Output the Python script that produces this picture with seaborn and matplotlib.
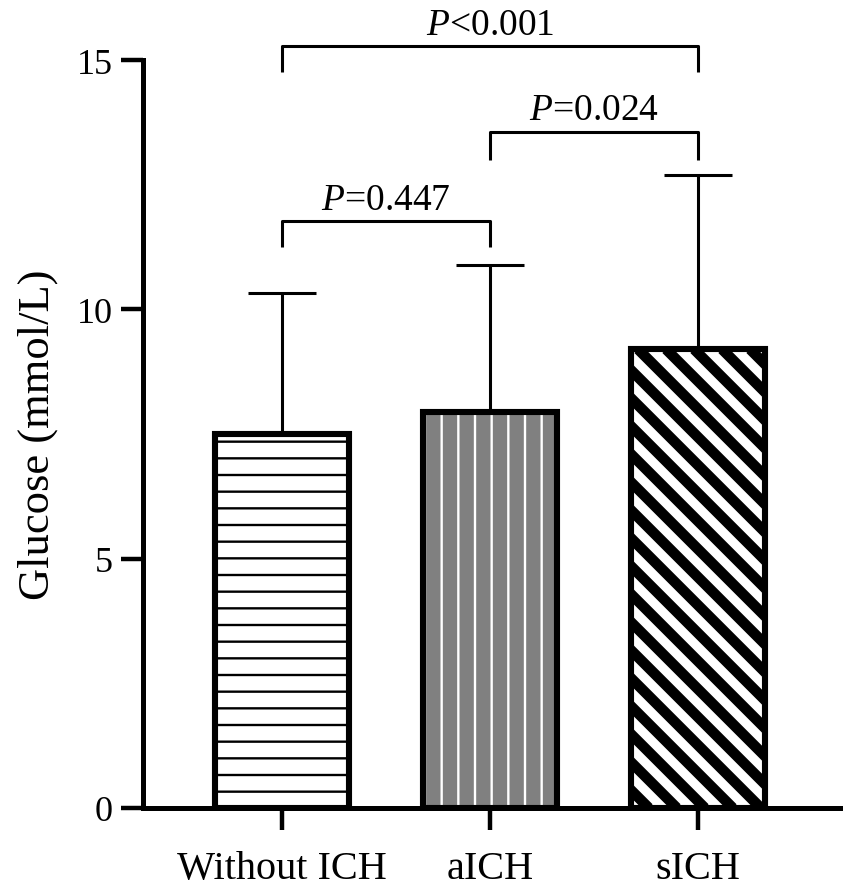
import matplotlib
matplotlib.use('Agg')
import matplotlib.pyplot as plt
import seaborn as sns
import pandas as pd
from matplotlib.patches import Rectangle
from matplotlib.lines import Line2D

# values
groups = ['Without ICH', 'aICH', 'sICH']
mean_glucose = [7.50, 7.94, 9.20]
sd_glucose = [2.83, 2.94, 3.49]
y_ticks = [0, 5, 10, 15]

comparisons = [(0, 1), (1, 2), (0, 2)]
p_labels = ['$\\mathit{P}$=0.447', '$\\mathit{P}$=0.024', '$\\mathit{P}$<0.001']
bracket_top = [11.77, 13.56, 15.28]
bracket_leg = [11.25, 12.99, 14.76]

face_colors = ['white', '#808080', 'white']

sns.set_theme(style='ticks')
plt.rcParams['font.family'] = ['Liberation Serif', 'DejaVu Serif']
plt.rcParams['mathtext.fontset'] = 'custom'
plt.rcParams['mathtext.rm'] = 'Liberation Serif'
plt.rcParams['mathtext.it'] = 'Liberation Serif:italic'
plt.rcParams['hatch.linewidth'] = 1.7
for key in ['text.color', 'axes.labelcolor', 'xtick.color', 'ytick.color', 'axes.edgecolor']:
    plt.rcParams[key] = 'black'

fig = plt.figure(figsize=(8.51, 8.95), dpi=100)
ax = fig.add_axes([143 / 851, 86 / 895, 697 / 851, 748 / 895])

df = pd.DataFrame({'group': groups, 'glucose': mean_glucose})
sns.barplot(data=df, x='group', y='glucose', hue='group', palette=face_colors,
            saturation=1, width=0.645, linewidth=0, legend=False, ax=ax, zorder=2)

ax.errorbar(range(len(groups)), mean_glucose, yerr=[[0] * len(groups), sd_glucose],
            fmt='none', ecolor='black', elinewidth=2.2, capsize=24.5, capthick=2.2,
            zorder=1)

ax.set_xlim(-0.668, 2.683)
ax.set_ylim(0, 15)
ax.set_yticks(y_ticks)

bars = list(ax.patches)[:3]

# hatch overlays: horizontal lines, white vertical lines
for bar, hatch, hcol in zip(bars[:2], ['-', '|'], ['black', 'white']):
    over = Rectangle(bar.get_xy(), bar.get_width(), bar.get_height(), fill=False,
                     hatch=hatch, edgecolor=hcol, linewidth=0, zorder=2.1)
    ax.add_patch(over)

# thick diagonal stripes for sICH
bar = bars[2]
(px0, py0) = ax.transData.transform((bar.get_x(), bar.get_y()))
(px1, py1) = ax.transData.transform((bar.get_x() + bar.get_width(), bar.get_y() + bar.get_height()))
clip_rect = Rectangle(bar.get_xy(), bar.get_width(), bar.get_height(), transform=ax.transData)
hgt = py1 - py0
s = px0 - hgt - 10
while s < px1 + 10:
    ln = Line2D([s / fig.dpi, (s + hgt) / fig.dpi], [py1 / fig.dpi, py0 / fig.dpi],
                transform=fig.dpi_scale_trans, color='black', linewidth=7.6,
                solid_capstyle='butt', zorder=2.1)
    ax.add_artist(ln)
    ln.set_clip_path(clip_rect)
    s += 28

# black outlines on top
for bar in bars:
    ax.add_patch(Rectangle(bar.get_xy(), bar.get_width(), bar.get_height(), fill=False,
                           edgecolor='black', linewidth=4.4, zorder=2.2))

# significance brackets
for (a, b), lab, top, leg in zip(comparisons, p_labels, bracket_top, bracket_leg):
    ax.plot([a, a, b, b], [leg, top, top, leg], color='black', linewidth=2.2,
            clip_on=False, solid_capstyle='butt')
    ax.annotate(lab, xy=((a + b) / 2, top), xytext=(0, 9), textcoords='offset points',
                ha='center', va='baseline', fontsize=27, color='black',
                annotation_clip=False)

sns.despine(ax=ax)
for side in ['left', 'bottom']:
    ax.spines[side].set_linewidth(3.6)
    ax.spines[side].set_color('black')

ax.tick_params(axis='both', direction='out', length=16, width=3.2, color='black',
               labelcolor='black')
ax.tick_params(axis='y', labelsize=26, pad=6)
ax.tick_params(axis='x', labelsize=29, pad=14)
ax.set_xlabel('')
ax.set_ylabel('Glucose (mmol/L)', fontsize=32, labelpad=13, color='black')

fig.savefig('out.png', dpi=100, facecolor='white')
